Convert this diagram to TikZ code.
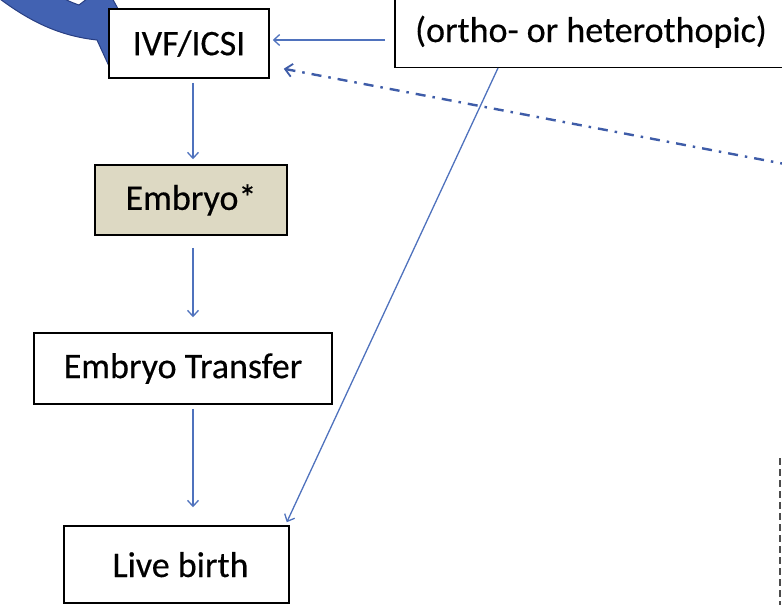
\documentclass[tikz,border=0pt]{standalone}
\usepackage{fontspec}
\setmainfont{Carlito}
\newfontfamily\boxfont[FakeBold=0.4]{Carlito}
\usetikzlibrary{arrows.meta,calc}
\definecolor{conn}{RGB}{79,114,189}
\definecolor{dashconn}{RGB}{62,92,168}
\definecolor{bigblue}{RGB}{66,98,178}
\definecolor{bigedge}{RGB}{40,62,130}
\definecolor{tanfill}{RGB}{221,217,195}
\tikzset{
  box/.style={draw=black, line width=1.5pt, fill=white, inner sep=0pt, font=\boxfont\fontsize{36}{40}\selectfont, text=black},
  boxtext/.style={font=\boxfont\fontsize{36}{40}\selectfont, text=black, inner sep=0pt},
  link/.style={draw=conn, line width=1.3pt, -{Straight Barb[length=6pt,width=11pt,line width=1.3pt]}},
  dashlink/.style={draw=dashconn, line width=2.4pt, dash pattern=on 10pt off 7pt on 2.5pt off 7pt, -{Straight Barb[length=7pt,width=13pt,line width=1.8pt]}},
}
\begin{document}
\begin{tikzpicture}[x=1pt,y=-1pt]
\useasboundingbox (0,0) rectangle (782,605);
\begin{scope}
\clip (0,0) rectangle (782,605);
% big curved blue arrow (clipped)
\filldraw[fill=bigblue, draw=bigedge, line width=1pt]
  (-4,-4) .. controls (30,22) and (60,36) .. (97,40) -- (108,64) -- (135,40) -- (105,-15)
  -- (79,5) .. controls (70,2) and (62,-2) .. (56,-6) -- cycle;
% boxes
\node[box, minimum width=160, minimum height=69] (ivf) at (189,43.5) {IVF/ICSI};
\node[box, fill=tanfill, minimum width=192, minimum height=70] (emb) at (191,200) {Embryo*};
\node[box, minimum width=298, minimum height=71] (et) at (183,368.5) {Embryo Transfer};
\node[box, minimum width=225, minimum height=77, text depth=0pt] (lb) at (176.5,564.5) {\hspace{8pt}Live birth};
\node[box, minimum width=420, minimum height=120, anchor=south west] (src) at (394,68) {};
\node[boxtext, anchor=base] (srctext) at (591,42) {(ortho- or heterothopic)};
% connectors
\draw[link, shorten <=4pt, shorten >=5pt] ([xshift=4pt]ivf.south) -- ([xshift=4pt]ivf.south |- emb.north);
\draw[link, shorten <=12pt, shorten >=15pt] ([xshift=2pt]emb.south) -- ([xshift=2pt]emb.south |- et.north);
\draw[link, shorten <=4pt, shorten >=18pt] ([xshift=10pt]et.south) -- ([xshift=10pt]et.south |- lb.north);
\draw[link] ($(src.south west)+(-9,-28)$) -- ($(ivf.east)+(3,-3.5)$);
\draw[link] ($(src.south west)+(104,0)$) -- ($(lb.north east)+(-3,-3)$);
\coordinate (farright) at (790,165);
\draw[dashlink] (farright) -- ($(ivf.south east)+(14,-10)$);
% clipped dashed edge at right
\coordinate (edgetop) at (780,458);
\coordinate (edgebot) at (780,610);
\draw[black!70, line width=2pt, dash pattern=on 7pt off 4pt] (edgetop) -- (edgebot);
\end{scope}
\end{tikzpicture}
\end{document}
